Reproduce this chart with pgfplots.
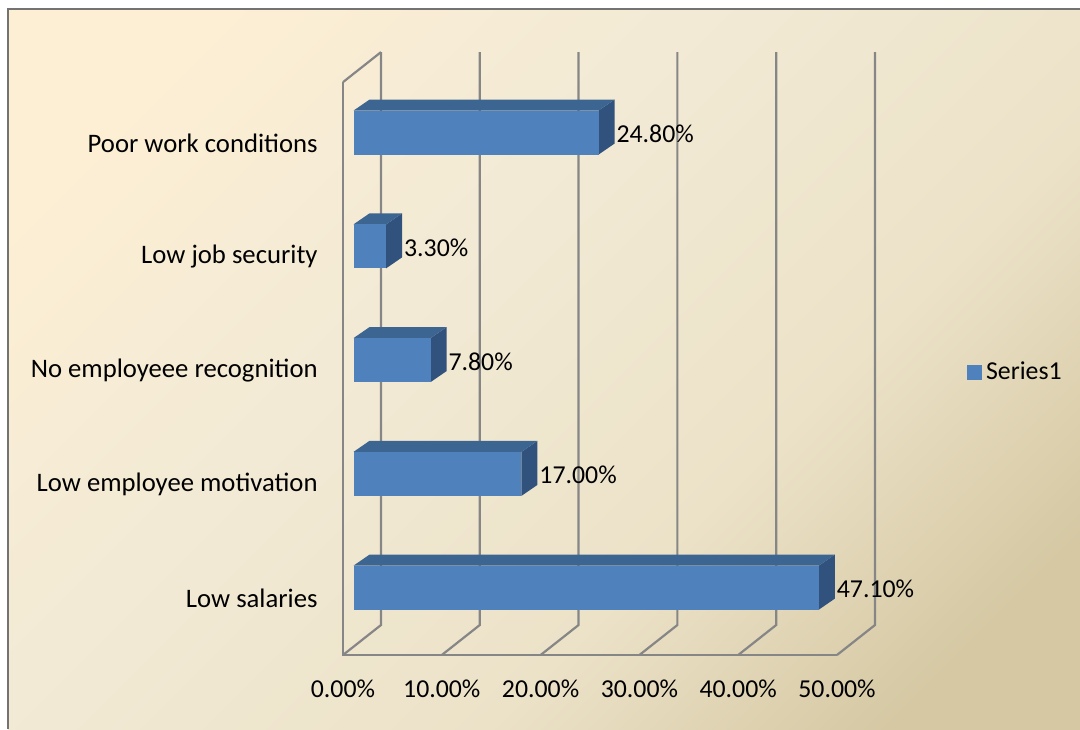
\documentclass[border=0pt]{standalone}
\usepackage{fontspec}
\setmainfont{Carlito}
\usepackage{pgfplots}
\usepackage{pgfplotstable}
\pgfplotsset{compat=1.18}
\definecolor{barfront}{HTML}{4F81BD}
\definecolor{bartop}{HTML}{3D6592}
\definecolor{barside}{HTML}{31527C}
\definecolor{gridgray}{HTML}{868686}
\definecolor{bgA}{HTML}{FDEFD4}
\definecolor{bgB}{HTML}{F2EAD5}
\definecolor{bgC}{HTML}{ECE2C8}
\definecolor{bgD}{HTML}{D5C8A3}
\pgfdeclarehorizontalshading{chartbg}{100bp}{color(0bp)=(bgA); color(22bp)=(bgA); color(42bp)=(bgB); color(62bp)=(bgC); color(78bp)=(bgD); color(100bp)=(bgD)}

\pgfplotstableread{
c v
0 47.1
1 17.0
2 7.8
3 3.3
4 24.8
}\bardata

% face vertices: a = times value, k = depth (0 front, 1 back), s = -1 bottom / +1 top
\pgfplotstableread{
a k s
0 0 -1
1 0 -1
1 0 1
0 0 1
}\frontface
\pgfplotstableread{
a k s
0 0 1
1 0 1
1 1 1
0 1 1
}\topface
\pgfplotstableread{
a k s
1 0 -1
1 0 1
1 1 1
1 1 -1
}\sideface

\newcommand\oxA{1.063}
\newcommand\oyA{0.0923}
\newcommand\oxD{1.619}
\newcommand\oyD{0.0967}
\newcommand\hh{0.1934}

\begin{document}
\begin{tikzpicture}[font=\fontsize{12.9}{15}\selectfont]
\path[use as bounding box, fill=white] (0,0) rectangle (540pt,364.5pt);
\shade[shading=chartbg, shading angle=-45] (4pt,0) rectangle (540pt,360pt);
\draw[gray!90!black, line width=1.3pt] (4pt,0) -- (4pt,360pt) -- (540pt,360pt);
\begin{axis}[
  at={(171.5pt,37pt)}, anchor=south west,
  scale only axis, width=247pt, height=286.43pt,
  xmin=0, xmax=50, ymin=-0.5, ymax=4.536,
  clip=false,
  axis line style={draw=none},
  major tick length=0pt,
  /pgf/number format/assume math mode=true,
  xtick={0,10,20,30,40,50},
  ytick={0,1,2,3,4},
  yticklabels={Low salaries, Low employee motivation, No employeee recognition, Low job security, Poor work conditions},
  xticklabel={\pgfmathprintnumber[fixed,fixed zerofill,precision=2]{\tick}\%},
  xticklabel style={anchor=center, yshift=-17pt},
  yticklabel style={anchor=east, inner sep=0pt, xshift=-12.5pt, font=\fontsize{13.35}{16}\selectfont},
  legend style={at={(1.263,0.494)}, anchor=west, draw=none, fill=none, inner sep=0pt,
    font=\fontsize{12.9}{15}\selectfont},
]
% walls and gridlines
\draw[gridgray, line width=1.1pt] (axis cs:0,4.536) -- (axis cs:0,-0.5) -- (axis cs:50,-0.5);
\draw[gridgray, line width=1.1pt] (axis cs:0,4.536) -- (axis cs:3.846,4.8);
\draw[gridgray, line width=1.1pt] (axis cs:0,-0.5) -- (axis cs:3.846,-0.2363) -- (axis cs:3.846,4.8);
\draw[gridgray, line width=1.1pt] (axis cs:10,-0.5) -- (axis cs:13.846,-0.2363) -- (axis cs:13.846,4.8);
\draw[gridgray, line width=1.1pt] (axis cs:20,-0.5) -- (axis cs:23.846,-0.2363) -- (axis cs:23.846,4.8);
\draw[gridgray, line width=1.1pt] (axis cs:30,-0.5) -- (axis cs:33.846,-0.2363) -- (axis cs:33.846,4.8);
\draw[gridgray, line width=1.1pt] (axis cs:40,-0.5) -- (axis cs:43.846,-0.2363) -- (axis cs:43.846,4.8);
\draw[gridgray, line width=1.1pt] (axis cs:50,-0.5) -- (axis cs:53.846,-0.2363) -- (axis cs:53.846,4.8);
% bars
\pgfplotsinvokeforeach{0,1,2,3,4}{
  \pgfplotstablegetelem{#1}{v}\of\bardata
  \edef\val{\pgfplotsretval}
  \addplot[fill=barside, draw=none, forget plot] table[x expr={\thisrow{a}*\val+\oxA+\thisrow{k}*\oxD}, y expr={#1+\oyA+\thisrow{k}*\oyD+\thisrow{s}*\hh}] {\sideface};
  \addplot[fill=bartop, draw=none, forget plot] table[x expr={\thisrow{a}*\val+\oxA+\thisrow{k}*\oxD}, y expr={#1+\oyA+\thisrow{k}*\oyD+\thisrow{s}*\hh}] {\topface};
  \addplot[fill=barfront, draw=none, forget plot] table[x expr={\thisrow{a}*\val+\oxA+\thisrow{k}*\oxD}, y expr={#1+\oyA+\thisrow{k}*\oyD+\thisrow{s}*\hh}] {\frontface};
}
% data labels
\addplot[draw=none, mark=none, forget plot, point meta=\thisrow{v},
  nodes near coords={\pgfmathprintnumber[fixed,fixed zerofill,precision=2]{\pgfplotspointmeta}\%},
  every node near coord/.append style={anchor=west, inner sep=0.8pt}]
  table[x expr=\thisrow{v}+2.682, y expr=\thisrow{c}+0.08] {\bardata};
\addlegendimage{legend image code/.code={\fill[barfront] (0pt,-3.5pt) rectangle (7pt,3.5pt);}}
\addlegendentry{Series1}
\end{axis}
\end{tikzpicture}
\end{document}
